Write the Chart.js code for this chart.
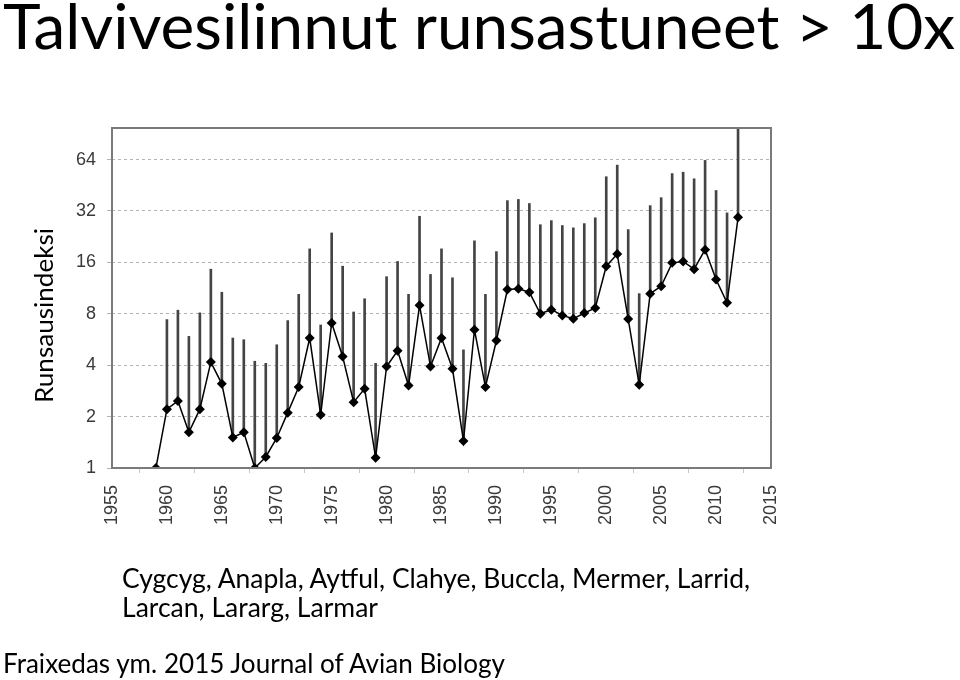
<!DOCTYPE html>
<html>
<head>
  <title>Talvivesilinnut runsastuneet</title>
  <script src="https://cdn.jsdelivr.net/npm/chart.js"></script>
  <style>
    body { margin: 0; background: #fff; }
    #wrap { position: relative; width: 960px; height: 680px; }
    #wrap canvas { position: absolute; left: 0; top: 0; }
    #texts { position: absolute; left: 0; top: 0; }
    #texts text { font-family: Lato, "Open Sans", sans-serif; fill: #000; }
  </style>
</head>
<body>
  <div id="wrap">
    <canvas id="chart" width="960" height="680"></canvas>
    <svg id="texts" width="960" height="680">
      <text x="3" y="49" font-size="62" textLength="952" lengthAdjust="spacingAndGlyphs">Talvivesilinnut runsastuneet &gt; 10x</text>
      <text transform="translate(53,403) rotate(-90)" font-size="25" textLength="175" lengthAdjust="spacingAndGlyphs">Runsausindeksi</text>
      <text x="122" y="588" font-size="27" textLength="628" lengthAdjust="spacingAndGlyphs">Cygcyg, Anapla, Aytful, Clahye, Buccla, Mermer, Larrid,</text>
      <text x="122" y="617" font-size="27" textLength="256" lengthAdjust="spacingAndGlyphs">Larcan, Lararg, Larmar</text>
      <text x="3" y="673" font-size="27" textLength="502" lengthAdjust="spacingAndGlyphs">Fraixedas ym. 2015 Journal of Avian Biology</text>
    </svg>
  </div>

  <script>
    var years = [1959, 1960, 1961, 1962, 1963, 1964, 1965, 1966, 1967, 1968,
                 1969, 1970, 1971, 1972, 1973, 1974, 1975, 1976, 1977, 1978,
                 1979, 1980, 1981, 1982, 1983, 1984, 1985, 1986, 1987, 1988,
                 1989, 1990, 1991, 1992, 1993, 1994, 1995, 1996, 1997, 1998,
                 1999, 2000, 2001, 2002, 2003, 2004, 2005, 2006, 2007, 2008,
                 2009, 2010, 2011, 2012];

    // runsausindeksi
    var indeksi = [1.0, 2.21, 2.47, 1.62, 2.21, 4.17, 3.11, 1.51, 1.62, 1.0,
                   1.16, 1.5, 2.11, 2.98, 5.77, 2.05, 7.07, 4.5, 2.43, 2.91,
                   1.15, 3.93, 4.86, 3.04, 8.97, 3.93, 5.77, 3.81, 1.44, 6.45,
                   2.98, 5.58, 11.1, 11.2, 10.7, 8.0, 8.46, 7.83, 7.48, 8.08,
                   8.65, 15.2, 17.9, 7.45, 3.07, 10.5, 11.6, 15.9, 16.2, 14.6,
                   19.0, 12.7, 9.27, 29.4];

    // luottamusvälin yläraja
    var ylaraja = [1.0, 7.4, 8.4, 5.9, 8.1, 14.6, 10.7, 5.77, 5.64, 4.22,
                   4.1, 5.27, 7.3, 10.4, 19.2, 6.88, 23.8, 15.2, 8.2, 9.8,
                   4.1, 13.2, 16.2, 10.4, 29.8, 13.6, 19.2, 13.0, 4.92, 21.4,
                   10.4, 18.5, 36.8, 37.4, 35.4, 26.6, 28.1, 26.3, 25.5, 27.0,
                   29.2, 50.8, 59.4, 24.9, 10.5, 34.4, 38.3, 53.0, 54.0, 49.4,
                   63.3, 42.2, 31.2, 120];

    var yTicks = [1, 2, 4, 8, 16, 32, 64];
    var xMin = 1955, xMax = 2015, xStep = 5;

    var frame = {
      id: "frame",
      afterDraw: function (chart) {
        var a = chart.chartArea, ctx = chart.ctx;
        ctx.save();
        ctx.strokeStyle = "#7a7a7a";
        ctx.lineWidth = 2;
        ctx.strokeRect(a.left, a.top, a.right - a.left, a.bottom - a.top);
        ctx.restore();
      }
    };

    var tickFont = { family: "'Liberation Sans', Arial, sans-serif", size: 18 };

    new Chart(document.getElementById("chart"), {
      type: "line",
      data: {
        datasets: [{
          type: "line",
          data: years.map(function (x, i) { return { x: x, y: indeksi[i] }; }),
          borderColor: "#000",
          borderWidth: 1.5,
          backgroundColor: "#000",
          pointStyle: "rectRot",
          pointRadius: 5,
          pointBorderWidth: 0,
          tension: 0,
          order: 0
        }, {
          type: "bar",
          data: years.map(function (x, i) { return { x: x, y: [indeksi[i], ylaraja[i]] }; }),
          backgroundColor: "#444",
          barThickness: 2,
          borderWidth: 0,
          order: 1
        }]
      },
      options: {
        responsive: false,
        animation: false,
        layout: { padding: { left: 0, top: 128, right: 189, bottom: 0 } },
        plugins: { legend: { display: false }, tooltip: { enabled: false } },
        scales: {
          x: {
            type: "linear",
            min: xMin,
            max: xMax,
            offset: false,
            afterFit: function (s) { s.height = 212; },
            ticks: {
              stepSize: xStep,
              minRotation: 90,
              maxRotation: 90,
              padding: 12,
              color: "#3a3a3a",
              font: tickFont,
              callback: function (v) { return String(v); }
            },
            grid: { drawOnChartArea: false, tickLength: 5, color: "#c8c8c8" },
            border: { display: false }
          },
          y: {
            type: "logarithmic",
            min: 1,
            max: 98,
            afterFit: function (s) { s.width = 112; },
            afterBuildTicks: function (s) {
              s.ticks = yTicks.map(function (v) { return { value: v }; });
            },
            ticks: {
              padding: 11,
              color: "#3a3a3a",
              font: tickFont,
              callback: function (v) { return String(v); }
            },
            grid: { color: "#b4b4b4", lineWidth: 1, tickLength: 5 },
            border: { display: false, dash: [3, 3] }
          }
        }
      },
      plugins: [frame]
    });
  </script>
</body>
</html>
